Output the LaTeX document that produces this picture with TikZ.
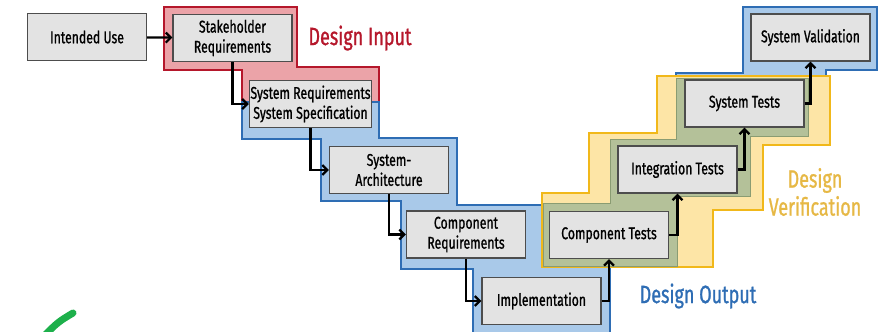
\documentclass[tikz,border=0pt]{standalone}
\usepackage{fontspec}
\setmainfont{Fira Sans}[FakeStretch=0.72, FakeBold=1]
\usetikzlibrary{arrows.meta}
\definecolor{boxfill}{HTML}{E3E3E3}
\definecolor{boxline}{HTML}{4D4D4D}
\definecolor{inred}{HTML}{B5172B}
\definecolor{inredfill}{HTML}{EBA3A8}
\definecolor{outblue}{HTML}{2E6DB4}
\definecolor{outbluefill}{HTML}{A9C9E9}
\definecolor{veryellow}{HTML}{F1B81A}
\definecolor{veryellowfill}{HTML}{FDE5A6}
\definecolor{vertext}{HTML}{E6B845}
\definecolor{testgreen}{HTML}{B4C199}
\definecolor{testgreenline}{HTML}{8A9C72}
\definecolor{tickgreen}{HTML}{1DB04B}

\begin{document}
\begin{tikzpicture}[x=1pt, y=-1pt,
  box/.style={draw=boxline, fill=boxfill, line width=1.3pt, minimum width=119pt,
    minimum height=47pt, align=center, inner sep=1pt, font=\fontsize{17}{20}\selectfont},
  flow/.style={line width=2.2pt, -{Straight Barb[length=5pt,width=10pt]}},
  phase/.style={font=\fontsize{25}{28}\selectfont, align=center}]
    \clip (0,0) rectangle (887,332);

    % phase areas
    \draw[draw=inred, fill=inredfill, line width=2pt]
      (164,7) -- (297,7) -- (297,67) -- (379,67) -- (379,102) -- (242,102) -- (242,70) -- (164,70) -- cycle;
    \draw[draw=outblue, fill=outbluefill, line width=2pt]
      (242,102) -- (379,102) -- (379,138) -- (457,138) -- (457,205) -- (600,205) -- (600,140)
      -- (665,140) -- (665,90) -- (676,90) -- (676,73) -- (743,73) -- (743,7) -- (877,7) -- (877,70)
      -- (826,70) -- (826,100) -- (740,100) -- (740,200) -- (700,200) -- (700,250) -- (610,250)
      -- (610,345) -- (473,345) -- (473,269) -- (401,269) -- (401,201) -- (321,201) -- (321,139)
      -- (242,139) -- cycle;
    \draw[draw=veryellow, fill=veryellowfill, line width=2.5pt]
      (542,193) -- (589,193) -- (589,133) -- (657,133) -- (657,76) -- (830,76) -- (830,145)
      -- (763,145) -- (763,210) -- (713,210) -- (713,267) -- (542,267) -- cycle;
    \draw[draw=testgreenline, fill=testgreen, line width=1pt]
      (543,203) -- (610,203) -- (610,139) -- (676,139) -- (676,78) -- (808,78) -- (808,136)
      -- (750,136) -- (750,196) -- (677,196) -- (677,266) -- (543,266) -- cycle;

    \node[phase, text=inred] (input) at (360,38) {Design Input};
    \node[phase, text=outblue] (output) at (698,296) {Design Output};
    \node[phase, text=vertext] (verif) at (815,192) {Design\\Verification};

    % steps
    \node[box] (use) at (87,37) {Intended Use};
    \node[box] (stake) at (232.5,38) {Stakeholder\\Requirements};
    \node[box] (sysreq) at (310.5,104) {System Requirements\\System Specification};
    \node[box] (arch) at (389,170) {System-\\Architecture};
    \node[box] (compreq) at (466,234.5) {Component\\Requirements};
    \node[box] (impl) at (541.5,301) {Implementation};
    \node[box] (comptest) at (609,235) {Component Tests};
    \node[box] (inttest) at (677.5,169.5) {Integration Tests};
    \node[box] (systest) at (744.5,103.5) {System Tests};
    \node[box] (sysval) at (810.5,37.5) {System Validation};

    \draw[flow] (use) -- (stake);
    \draw[flow] (stake.south) |- (sysreq.west);
    \draw[flow] (sysreq.south) |- (arch.west);
    \draw[flow] (arch.south) |- (compreq.west);
    \draw[flow] (compreq.south) |- (impl.west);
    \draw[flow] (impl.east) -| (comptest.south);
    \draw[flow] (comptest.east) -| (inttest.south);
    \draw[flow] (inttest.east) -| (systest.south);
    \draw[flow] (systest.east) -| (sysval.south);

    % green tick
    \draw[tickgreen, line width=7pt, line cap=round] (73,313) .. controls (58,322) .. (42,338);
\end{tikzpicture}
\end{document}
